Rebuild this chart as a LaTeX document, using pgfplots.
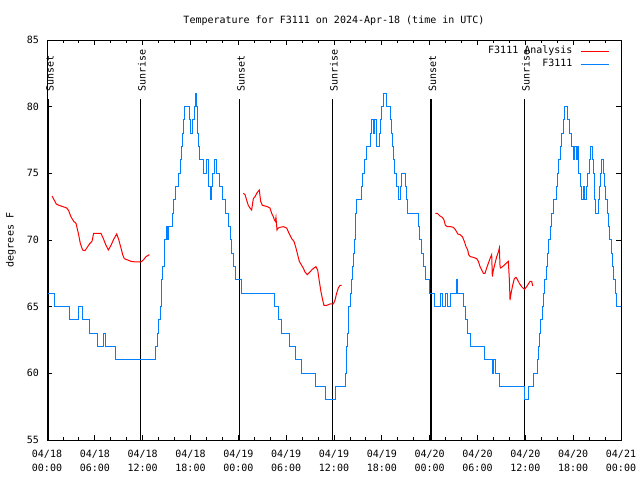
\documentclass[border=0pt]{standalone}
\usepackage{fontspec}
\setmainfont{DejaVu Sans Mono}
\usepackage{pgfplots}
\pgfplotsset{compat=1.18}
\definecolor{gblue}{RGB}{0,128,255}
\definecolor{gred}{RGB}{255,0,0}
\begin{document}
\begin{tikzpicture}[font=\fontsize{10bp}{13bp}\selectfont]
\begin{axis}[
 at={(0,0)}, anchor=south west,
 scale only axis, width=574bp, height=400bp,
 xmin=0, xmax=72, ymin=55, ymax=85,
 clip=false,
 xtick={0,6,...,72}, minor x tick num=2,
 xticklabels={{04/18\\00:00},{04/18\\06:00},{04/18\\12:00},{04/18\\18:00},{04/19\\00:00},{04/19\\06:00},{04/19\\12:00},{04/19\\18:00},{04/20\\00:00},{04/20\\06:00},{04/20\\12:00},{04/20\\18:00},{04/21\\00:00}},
 ytick={55,60,...,85},
 tick align=inside,
 major tick length=5bp, minor tick length=3bp,
 /pgf/number format/assume math mode=true,
 xticklabel style={align=center, font=\fontsize{10bp}{14bp}\selectfont, inner sep=0pt, yshift=-10bp, anchor=north},
 yticklabel style={inner sep=0pt, xshift=-8bp, anchor=east},
 ylabel={degrees F},
 ylabel style={at={(axis description cs:-0.0627,0.5)}, anchor=center, inner sep=0pt},
 every axis title shift/.style={},
 title={Temperature for F3111 on 2024-Apr-18 (time in UTC)},
 title style={at={(axis description cs:0.5,1)}, anchor=base, yshift=10.5bp, inner sep=0pt},
 axis line style={line width=0.8bp},
 every tick/.style={black, line width=0.8bp},
 legend plot pos=right,
 legend cell align=right,
 legend style={draw=none, fill=none, at={(rel axis cs:0.9796,0.988)}, anchor=north east, inner sep=0pt, outer sep=0pt, row sep=0bp, column sep=6.7bp, nodes={inner sep=1.5bp, text height=7.5bp, text depth=2.5bp}},
 legend image code/.code={\draw[#1] (0bp,0bp) -- (27.6bp,0bp);},
]
% sunrise / sunset lines
\addplot[black, line width=1.2bp, forget plot] coordinates {(0.17,55) (0.17,80.55)};
\addplot[black, line width=1.2bp, forget plot] coordinates {(11.71,55) (11.71,80.55)};
\addplot[black, line width=1.2bp, forget plot] coordinates {(24.13,55) (24.13,80.55)};
\addplot[black, line width=1.2bp, forget plot] coordinates {(35.79,55) (35.79,80.55)};
\addplot[black, line width=1.2bp, forget plot] coordinates {(48.17,55) (48.17,80.55)};
\addplot[black, line width=1.2bp, forget plot] coordinates {(59.88,55) (59.88,80.55)};
\node[rotate=90, anchor=west, inner sep=0pt] at (axis cs:0.36,81.1) {Sunset};
\node[rotate=90, anchor=west, inner sep=0pt] at (axis cs:11.9,81.1) {Sunrise};
\node[rotate=90, anchor=west, inner sep=0pt] at (axis cs:24.32,81.1) {Sunset};
\node[rotate=90, anchor=west, inner sep=0pt] at (axis cs:35.98,81.1) {Sunrise};
\node[rotate=90, anchor=west, inner sep=0pt] at (axis cs:48.36,81.1) {Sunset};
\node[rotate=90, anchor=west, inner sep=0pt] at (axis cs:60.07,81.1) {Sunrise};
% analysis (red)
\addplot[gred, line width=1bp] coordinates {
(0.63,73.3) (0.9,73.0) (1.17,72.7) (1.5,72.6) (2.0,72.5) (2.47,72.4) (2.72,72.2) (3.0,71.75) (3.35,71.4) (3.64,71.25) (3.93,70.5) (4.18,69.75) (4.47,69.25) (4.77,69.2) (5.1,69.5) (5.39,69.75) (5.64,69.9) (5.85,70.5) (6.77,70.5) (7.07,70.1) (7.4,69.6) (7.69,69.25) (8.03,69.6) (8.36,70.05) (8.74,70.45) (8.99,70.05) (9.28,69.4) (9.49,68.9) (9.7,68.6) (10.12,68.5) (10.54,68.4) (11.16,68.35) (11.79,68.35) (12.08,68.5) (12.42,68.75) (12.84,68.9)
};
\addlegendentry{F3111 Analysis}
\addplot[gred, line width=1bp, forget plot] coordinates {
(24.63,73.5) (24.84,73.4) (25.04,73.0) (25.25,72.6) (25.46,72.4) (25.67,72.25) (25.88,73.1) (26.09,73.25) (26.3,73.5) (26.63,73.75) (26.8,72.9) (27.01,72.6) (27.35,72.55) (27.64,72.5) (27.97,72.4) (28.18,72.0) (28.39,71.75) (28.52,71.5) (28.64,71.4) (28.72,71.7) (28.85,70.75) (29.01,70.9) (29.22,70.95) (29.64,71.0) (30.06,70.9) (30.36,70.5) (30.69,70.1) (30.98,69.9) (31.23,69.4) (31.44,68.9) (31.65,68.4) (31.94,68.1) (32.15,67.9) (32.36,67.6) (32.65,67.4) (32.9,67.55) (33.2,67.75) (33.49,67.9) (33.74,68.0) (33.95,67.75) (34.16,66.9) (34.37,66.1) (34.58,65.5) (34.74,65.1) (35.08,65.1) (35.5,65.2) (35.92,65.2) (36.13,65.5) (36.33,66.0) (36.54,66.4) (36.75,66.6) (36.96,66.6)
};
\addplot[gred, line width=1bp, forget plot] coordinates {
(48.71,72.0) (48.96,72.0) (49.29,71.8) (49.59,71.7) (49.8,71.5) (49.97,71.1) (50.22,71.0) (50.64,71.0) (50.97,70.95) (51.26,70.75) (51.52,70.45) (51.81,70.4) (52.1,70.25) (52.35,69.9) (52.56,69.5) (52.77,69.25) (52.89,68.9) (53.1,68.75) (53.48,68.7) (53.9,68.6) (54.11,68.4) (54.32,68.0) (54.53,67.75) (54.74,67.5) (54.94,67.5) (55.15,67.9) (55.36,68.25) (55.57,68.6) (55.78,68.9) (55.86,67.25) (55.99,67.75) (56.2,68.25) (56.41,68.75) (56.62,69.1) (56.74,69.4) (56.83,68.0) (56.91,67.9) (57.24,68.05) (57.58,68.25) (57.87,68.4) (58.0,67.0) (58.08,65.5) (58.21,66.0) (58.41,66.6) (58.62,67.1) (58.83,67.2) (59.04,67.0) (59.25,66.75) (59.54,66.5) (59.88,66.3) (60.17,66.5) (60.43,66.75) (60.59,66.9) (60.8,66.9) (60.92,66.55)
};
% observed (blue)
\addplot[gblue, line width=1bp, const plot] coordinates {
(0.17,66) (1.0,65) (2.8,64) (4.0,65) (4.4,64) (5.39,63) (6.35,62) (7.11,63) (7.28,62) (8.57,61) (13.55,62) (13.8,63) (14.01,64) (14.18,65) (14.34,66) (14.42,67) (14.55,68) (14.68,69) (14.8,70) (14.93,71) (15.1,70) (15.26,71) (15.68,72) (15.93,73) (16.1,74) (16.52,75) (16.73,76) (16.85,77) (16.98,78) (17.1,79) (17.27,80) (17.85,79) (17.98,78) (18.31,79) (18.48,80) (18.65,81) (18.81,80) (18.9,78) (18.98,77) (19.19,76) (19.61,75) (19.95,76) (20.32,74) (20.49,73) (20.66,74) (20.78,75) (20.99,76) (21.28,75) (21.7,74) (22.03,73) (22.45,72) (22.75,71) (22.96,70) (23.16,69) (23.37,68) (23.67,67) (24.34,66) (28.5,65) (29.0,64) (29.39,63) (30.4,62) (31.19,61) (31.95,60) (33.62,59) (34.88,58) (36.25,59) (37.5,60) (37.55,61) (37.63,62) (37.72,63) (37.8,64) (37.88,65) (38.05,66) (38.17,67) (38.35,68) (38.47,69) (38.51,70) (38.64,71) (38.72,72) (38.84,73) (39.39,74) (39.6,75) (39.85,76) (40.1,77) (40.52,78) (40.73,79) (40.94,78) (41.14,79) (41.35,77) (41.73,78) (41.81,79) (41.98,80) (42.27,81) (42.61,80) (43.03,79) (43.15,78) (43.28,77) (43.41,76) (43.57,75) (43.82,74) (44.07,73) (44.28,74) (44.45,75) (44.91,74) (45.04,73) (45.2,72) (46.54,71) (46.71,70) (46.96,69) (47.25,68) (47.54,67) (48.04,66) (48.59,65) (49.38,66) (49.55,65) (50.01,66) (50.18,65) (50.6,66) (51.31,67) (51.52,66) (52.23,65) (52.52,64) (52.77,63) (53.14,62) (54.9,61) (55.85,60) (55.95,61) (56.32,60) (56.74,59) (59.88,58) (60.34,59) (61.01,60) (61.55,61) (61.68,62) (61.8,63) (61.93,64) (62.1,65) (62.26,66) (62.43,67) (62.6,68) (62.76,69) (62.93,70) (63.1,71) (63.31,72) (63.59,73) (63.85,74) (64.06,75) (64.22,76) (64.35,77) (64.52,78) (64.73,79) (64.93,80) (65.31,79) (65.56,78) (65.73,77) (66.06,76) (66.19,77) (66.44,76) (66.57,77) (66.73,75) (66.9,74) (67.07,73) (67.24,74) (67.4,73) (67.61,74) (67.82,75) (67.99,76) (68.16,77) (68.41,76) (68.53,75) (68.66,73) (68.78,72) (69.12,73) (69.28,74) (69.41,75) (69.58,76) (69.83,75) (69.96,74) (70.08,73) (70.25,72) (70.42,71) (70.59,70) (70.75,69) (70.92,68) (71.09,67) (71.26,66) (71.42,65) (72,65)
};
\addlegendentry{F3111}
\end{axis}
\pgfresetboundingbox
\path[use as bounding box] (-47bp,-40bp) rectangle (593bp,440bp);
\end{tikzpicture}
\end{document}
